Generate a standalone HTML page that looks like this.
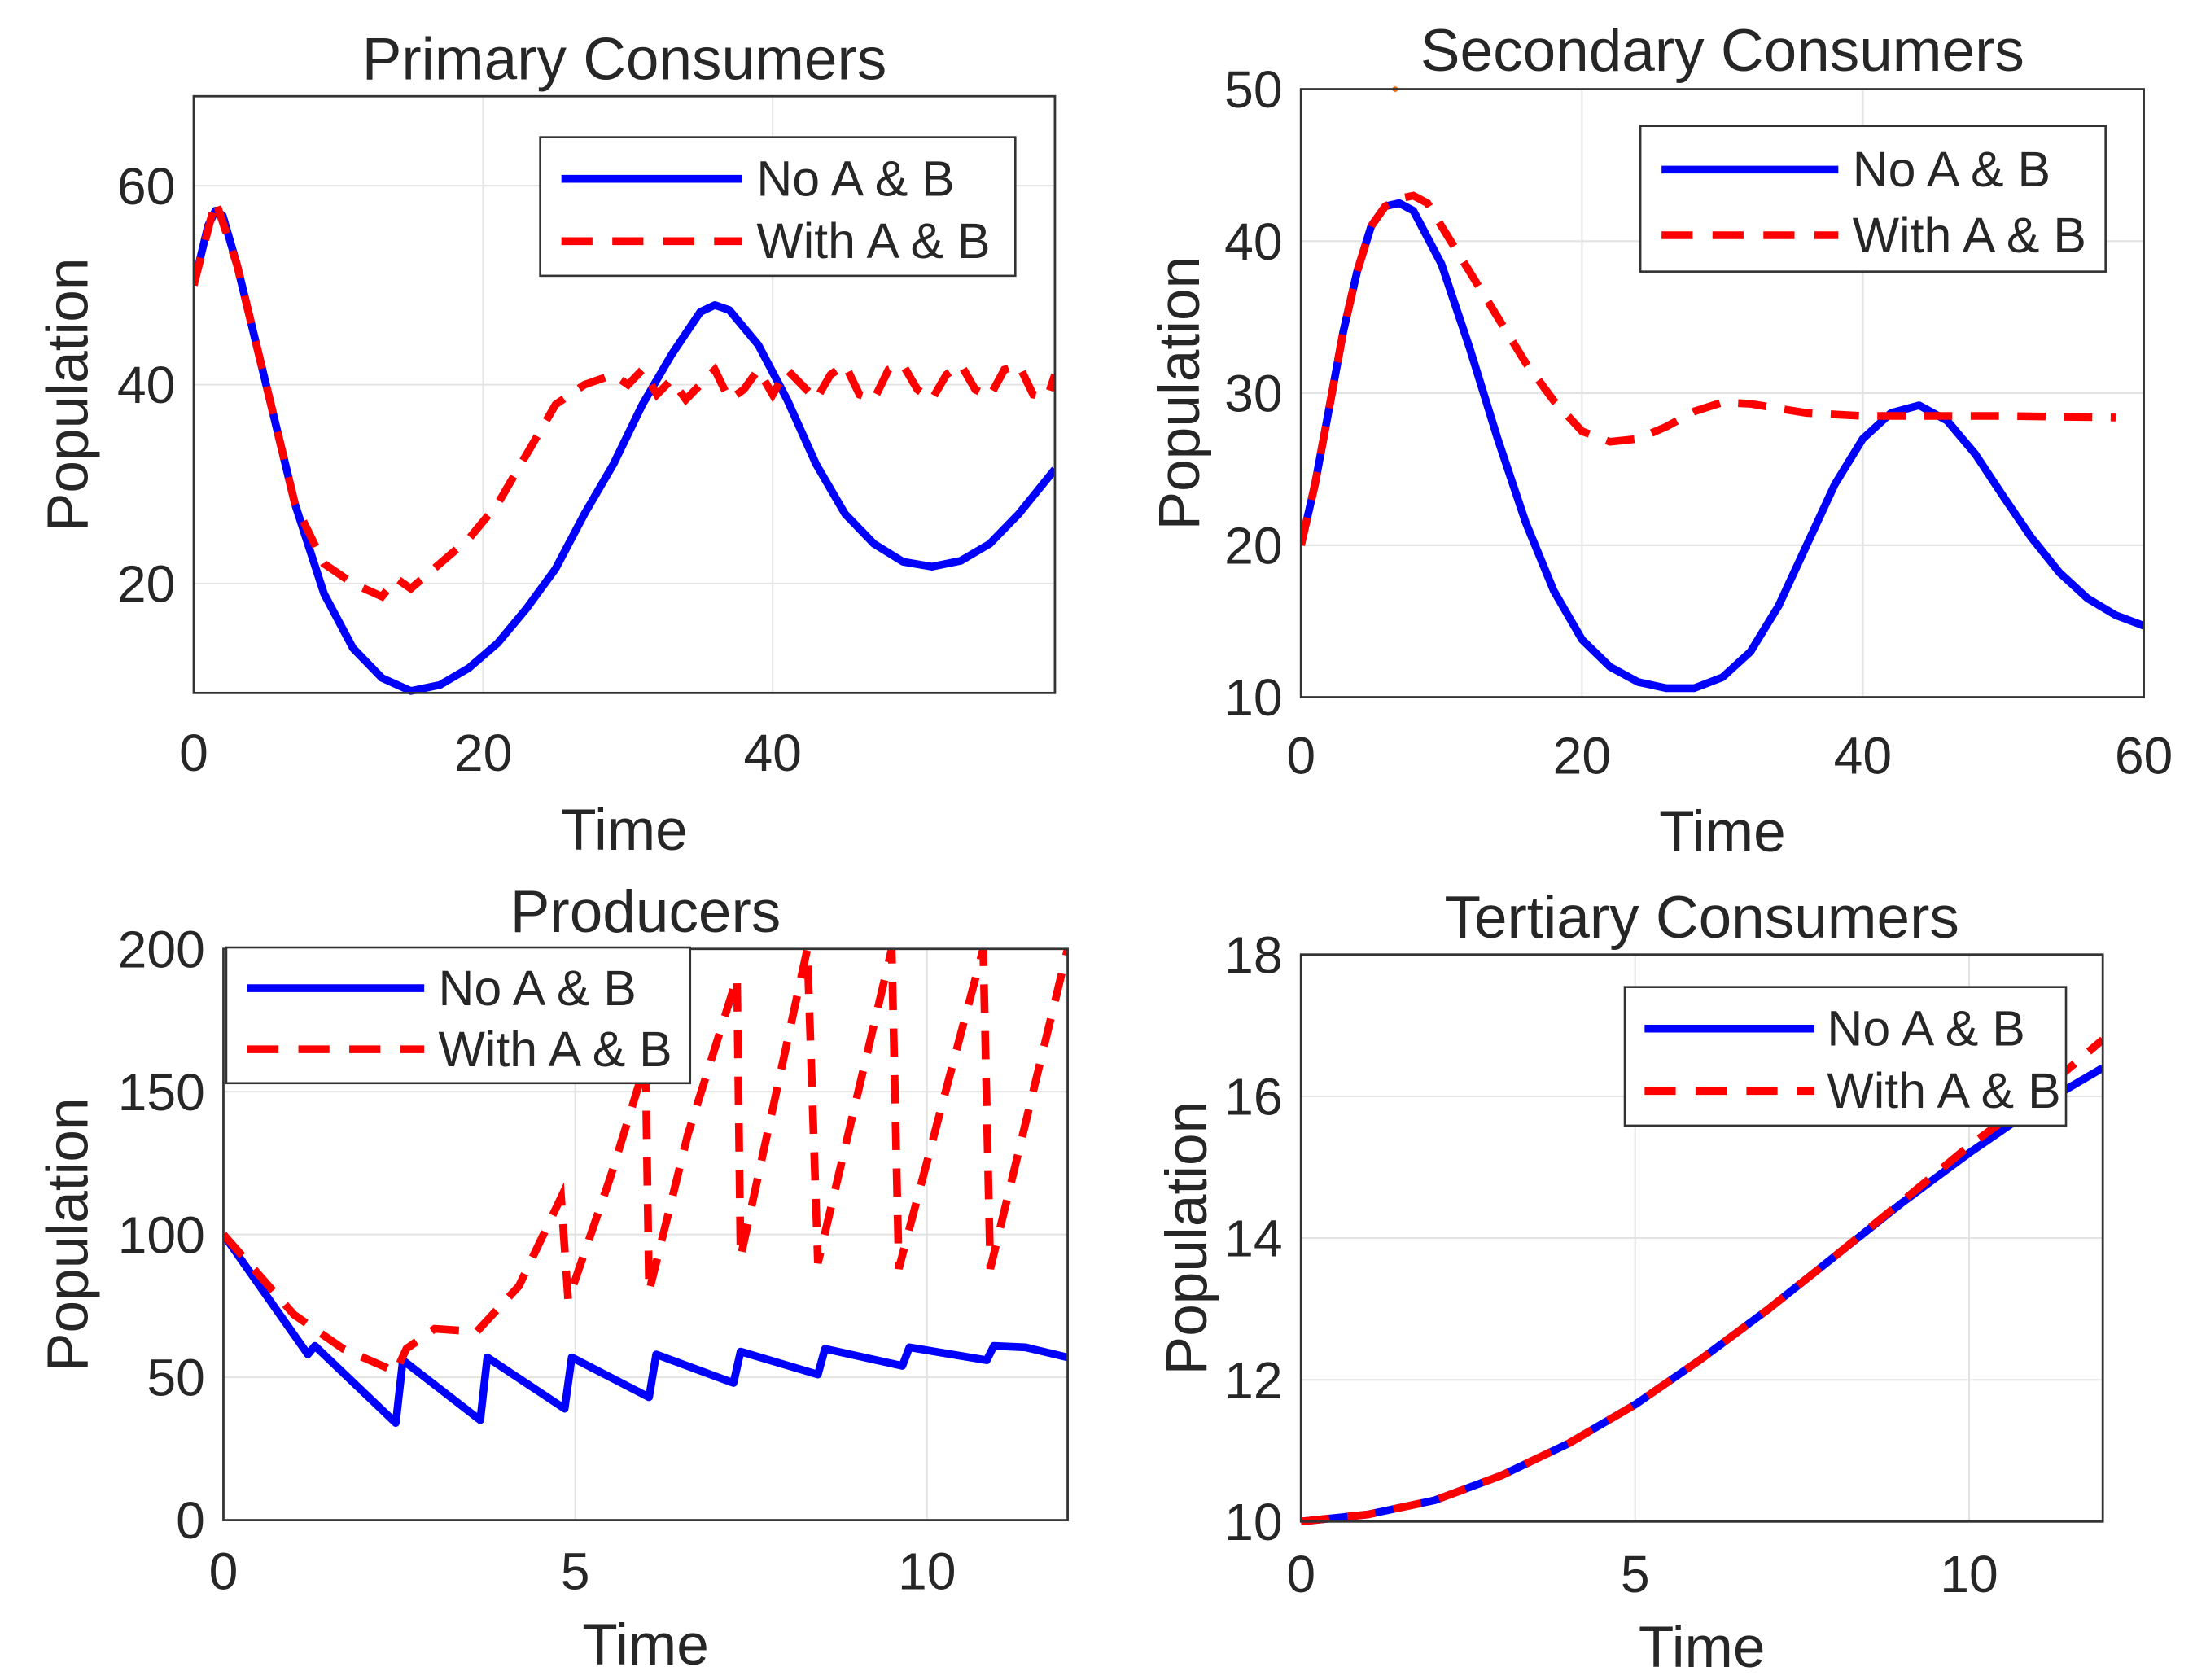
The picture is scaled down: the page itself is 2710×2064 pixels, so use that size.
<!DOCTYPE html>
<html><head><meta charset="utf-8"><style>
html,body{margin:0;padding:0;background:#fff}
svg{display:block}
text{font-family:"Liberation Sans",sans-serif;fill:#262626}
.grid{stroke:#e3e3e3;stroke-width:1.2}
.ax{fill:none;stroke:#333;stroke-width:1.6}
.tk{font-size:37px}
.lg{font-size:35px}
.tt{font-size:42px;text-anchor:middle}
.al{font-size:41px;text-anchor:middle}
.blue{fill:none;stroke:#0000ff;stroke-width:5.5;stroke-linejoin:round}
.red{fill:none;stroke:#ff0000;stroke-width:5.5;stroke-dasharray:20 13}
</style></head><body>
<svg id="fig" width="2710" height="2064" viewBox="0 0 1560 1188">
<defs>
<clipPath id="c0"><rect x="137" y="65" width="609" height="428"/></clipPath>
<clipPath id="c1"><rect x="920" y="60" width="596" height="436"/></clipPath>
<clipPath id="c2"><rect x="158" y="668" width="597" height="410"/></clipPath>
<clipPath id="c3"><rect x="920" y="672" width="567" height="407"/></clipPath>
</defs>

<!-- Panel 1 -->
<g>
<line class="grid" x1="341.7" x2="341.7" y1="68" y2="490"/><line class="grid" x1="546.4" x2="546.4" y1="68" y2="490"/>
<line class="grid" x1="137" x2="746" y1="412.6" y2="412.6"/><line class="grid" x1="137" x2="746" y1="272" y2="272"/><line class="grid" x1="137" x2="746" y1="131.3" y2="131.3"/>
<polyline id="l0b" class="blue" clip-path="url(#c0)" points="137,201.6 147.2,159.4 152.4,148.9 157.5,152.4 167.7,187.6 188.2,272 208.6,356.4 229.1,419.7 249.6,458.3 270.1,479.4 290.5,488.6 311,484.4 331.5,472.4 351.9,454.8 372.4,430.2 392.9,402.1 413.3,363.4 433.8,328.2 454.3,286 474.8,250.9 495.2,220.6 505.5,215.7 515.7,219.2 536.2,243.8 556.6,282.5 577.1,328.2 597.6,363.4 618,384.5 638.5,397.2 659,400.7 679.5,396.5 699.9,384.5 720.4,363.4 746,331.8"/>
<polyline id="l0r" class="red" clip-path="url(#c0)" points="137,201.6 152.4,141.9 167.7,187.6 188.2,272 208.6,356.4 229.1,398.6 249.6,412.6 270.1,421.8 280.3,409.1 290.5,416.2 311,398.6 331.5,381 351.9,356.4 372.4,321.2 392.9,286 413.3,272 433.8,264.9 444.1,272 454.3,261.4 464.5,279 474.8,268.5 485,282.5 495.2,272 505.5,261.4 515.7,282.5 525.9,275.5 536.2,261.4 546.4,279 556.6,261.4 566.9,272 577.1,282.5 587.3,264.9 597.6,257.9 607.8,279 618,282.5 628.3,261.4 638.5,257.9 648.8,275.5 659,282.5 669.2,264.9 679.5,257.9 689.7,275.5 699.9,280.4 710.2,261.4 720.4,257.9 730.6,279 740.9,280.4 746,264.9"/>
<rect class="ax" x="137" y="68" width="609" height="422"/>
<text class="tk" x="137" y="545" text-anchor="middle">0</text>
<text class="tk" x="341.7" y="545" text-anchor="middle">20</text>
<text class="tk" x="546.4" y="545" text-anchor="middle">40</text>
<text class="tk" x="124" y="425.6" text-anchor="end">20</text>
<text class="tk" x="124" y="285" text-anchor="end">40</text>
<text class="tk" x="124" y="144.3" text-anchor="end">60</text>
<text class="tt" x="441.5" y="56">Primary Consumers</text>
<text class="al" x="441.5" y="601">Time</text>
<text class="al" x="62" y="279" transform="rotate(-90 62 279)">Population</text>
<g>
<rect x="382" y="97" width="336" height="98" fill="#fff" stroke="#333" stroke-width="1.5"/>
<line x1="397" x2="525" y1="126.4" y2="126.4" stroke="#0000ff" stroke-width="5.5"/>
<line x1="397" x2="525" y1="170.5" y2="170.5" stroke="#ff0000" stroke-width="5.5" stroke-dasharray="22 14"/>
<text class="lg" x="535" y="138.4">No A &amp; B</text>
<text class="lg" x="535" y="182.5">With A &amp; B</text>
</g>
</g>

<!-- Panel 2 -->
<g>
<line class="grid" x1="1118.7" x2="1118.7" y1="63" y2="493"/><line class="grid" x1="1317.3" x2="1317.3" y1="63" y2="493"/>
<line class="grid" x1="920" x2="1516" y1="385.5" y2="385.5"/><line class="grid" x1="920" x2="1516" y1="278" y2="278"/><line class="grid" x1="920" x2="1516" y1="170.5" y2="170.5"/>
<polyline id="l1b" class="blue" clip-path="url(#c1)" points="920,385.5 929.9,342.5 939.9,288.8 949.8,235 959.7,192 969.7,159.8 979.6,145.8 989.5,143.6 999.5,149 1019.3,186.6 1039.2,245.8 1059.1,310.3 1078.9,369.4 1098.8,417.8 1118.7,452.2 1138.5,471.5 1158.4,482.3 1178.3,486.6 1198.1,486.6 1218,479 1237.9,460.8 1257.7,428.5 1277.6,385.5 1297.5,342.5 1317.3,310.3 1337.2,292 1357.1,286.6 1376.9,297.4 1396.8,321 1416.7,351.1 1436.5,380.1 1456.4,404.9 1476.2,423.1 1496.1,435 1516,442.5"/>
<polyline id="l1r" class="red" clip-path="url(#c1)" points="920,385.5 929.9,342.5 939.9,288.8 949.8,235 959.7,192 969.7,159.8 979.6,145.8 989.5,140.4 999.5,138.3 1009.4,143.6 1019.3,159.8 1039.2,192 1059.1,224.3 1078.9,256.5 1098.8,283.4 1108.7,294.1 1118.7,304.9 1138.5,312.4 1158.4,310.3 1178.3,301.7 1198.1,290.9 1218,284.5 1237.9,285.5 1257.7,288.8 1277.6,292 1317.3,294.1 1357.1,294.1 1416.7,294.1 1496.1,295.2"/>
<circle cx="986.6" cy="63" r="2" fill="#ff6600"/>
<rect class="ax" x="920" y="63" width="596" height="430"/>
<text class="tk" x="920" y="547" text-anchor="middle">0</text>
<text class="tk" x="1118.7" y="547" text-anchor="middle">20</text>
<text class="tk" x="1317.3" y="547" text-anchor="middle">40</text>
<text class="tk" x="1516" y="547" text-anchor="middle">60</text>
<text class="tk" x="907" y="506" text-anchor="end">10</text>
<text class="tk" x="907" y="398.5" text-anchor="end">20</text>
<text class="tk" x="907" y="291" text-anchor="end">30</text>
<text class="tk" x="907" y="183.5" text-anchor="end">40</text>
<text class="tk" x="907" y="76" text-anchor="end">50</text>
<text class="tt" x="1218" y="50">Secondary Consumers</text>
<text class="al" x="1218" y="602">Time</text>
<text class="al" x="848" y="278" transform="rotate(-90 848 278)">Population</text>
<g>
<rect x="1160" y="89" width="329" height="103" fill="#fff" stroke="#333" stroke-width="1.5"/>
<line x1="1175" x2="1300" y1="119.9" y2="119.9" stroke="#0000ff" stroke-width="5.5"/>
<line x1="1175" x2="1300" y1="166.3" y2="166.3" stroke="#ff0000" stroke-width="5.5" stroke-dasharray="22 14"/>
<text class="lg" x="1310" y="131.9">No A &amp; B</text>
<text class="lg" x="1310" y="178.3">With A &amp; B</text>
</g>
</g>

<!-- Panel 3 -->
<g>
<line class="grid" x1="406.8" x2="406.8" y1="671" y2="1075"/><line class="grid" x1="655.5" x2="655.5" y1="671" y2="1075"/>
<line class="grid" x1="158" x2="755" y1="974" y2="974"/><line class="grid" x1="158" x2="755" y1="873" y2="873"/><line class="grid" x1="158" x2="755" y1="772" y2="772"/>
<polyline id="l2b" class="blue" clip-path="url(#c2)" points="158,873 217.7,957.8 222.7,951.8 279.9,1006.3 284.9,961.9 339.6,1004.3 344.6,959.9 399.3,996.2 404.3,959.9 459,988.1 464,957.8 518.7,978 523.7,955.8 578.4,972 583.4,953.8 638.1,965.9 643.1,952.8 697.8,961.9 702.8,951.8 725.2,952.8 755,959.9"/>
<polyline id="l2r" class="red" clip-path="url(#c2)" points="158,873 207.8,929.6 242.6,953.8 279.9,970 287.4,953.8 307.3,939.7 337.1,941.7 367,909.4 396.8,846.7 401.8,919.5 431.6,832.6 456.5,751.8 459,913.4 486.4,802.3 521.2,691.2 523.7,889.2 570.9,671 578.4,893.2 630.6,671 635.6,897.2 695.3,671 700.3,897.2 755,671"/>
<rect class="ax" x="158" y="671" width="597" height="404"/>
<text class="tk" x="158" y="1124" text-anchor="middle">0</text>
<text class="tk" x="406.8" y="1124" text-anchor="middle">5</text>
<text class="tk" x="655.5" y="1124" text-anchor="middle">10</text>
<text class="tk" x="145" y="1088" text-anchor="end">0</text>
<text class="tk" x="145" y="987" text-anchor="end">50</text>
<text class="tk" x="145" y="886" text-anchor="end">100</text>
<text class="tk" x="145" y="785" text-anchor="end">150</text>
<text class="tk" x="145" y="684" text-anchor="end">200</text>
<text class="tt" x="456.5" y="659">Producers</text>
<text class="al" x="456.5" y="1177">Time</text>
<text class="al" x="62" y="873" transform="rotate(-90 62 873)">Population</text>
<g>
<rect x="160" y="670" width="328" height="96" fill="#fff" stroke="#333" stroke-width="1.5"/>
<line x1="175" x2="300" y1="698.8" y2="698.8" stroke="#0000ff" stroke-width="5.5"/>
<line x1="175" x2="300" y1="742" y2="742" stroke="#ff0000" stroke-width="5.5" stroke-dasharray="22 14"/>
<text class="lg" x="310" y="710.8">No A &amp; B</text>
<text class="lg" x="310" y="754">With A &amp; B</text>
</g>
</g>

<!-- Panel 4 -->
<g>
<line class="grid" x1="1156.3" x2="1156.3" y1="675" y2="1076"/><line class="grid" x1="1392.5" x2="1392.5" y1="675" y2="1076"/>
<line class="grid" x1="920" x2="1487" y1="975.8" y2="975.8"/><line class="grid" x1="920" x2="1487" y1="875.5" y2="875.5"/><line class="grid" x1="920" x2="1487" y1="775.3" y2="775.3"/>
<polyline id="l3b" class="blue" clip-path="url(#c3)" points="920,1076 967.3,1071 1014.5,1061 1061.8,1043.4 1109,1020.9 1156.3,993.3 1203.5,960.7 1250.8,925.6 1298,888 1345.3,850.4 1392.5,815.4 1439.8,782.8 1487,755.2"/>
<polyline id="l3r" class="red" clip-path="url(#c3)" points="920,1076 967.3,1071 1014.5,1061 1061.8,1043.4 1109,1020.9 1156.3,993.3 1203.5,960.7 1250.8,925.6 1298,888 1345.3,849.4 1392.5,810.4 1439.8,775.3 1487,735.2"/>
<rect class="ax" x="920" y="675" width="567" height="401"/>
<text class="tk" x="920" y="1126" text-anchor="middle">0</text>
<text class="tk" x="1156.3" y="1126" text-anchor="middle">5</text>
<text class="tk" x="1392.5" y="1126" text-anchor="middle">10</text>
<text class="tk" x="907" y="1089" text-anchor="end">10</text>
<text class="tk" x="907" y="988.8" text-anchor="end">12</text>
<text class="tk" x="907" y="888.5" text-anchor="end">14</text>
<text class="tk" x="907" y="788.3" text-anchor="end">16</text>
<text class="tk" x="907" y="688" text-anchor="end">18</text>
<text class="tt" x="1203.5" y="663">Tertiary Consumers</text>
<text class="al" x="1203.5" y="1179">Time</text>
<text class="al" x="853" y="875.5" transform="rotate(-90 853 875.5)">Population</text>
<g>
<rect x="1149" y="698" width="312" height="98" fill="#fff" stroke="#333" stroke-width="1.5"/>
<line x1="1163" x2="1283" y1="727.4" y2="727.4" stroke="#0000ff" stroke-width="5.5"/>
<line x1="1163" x2="1283" y1="771.5" y2="771.5" stroke="#ff0000" stroke-width="5.5" stroke-dasharray="22 14"/>
<text class="lg" x="1292" y="739.4">No A &amp; B</text>
<text class="lg" x="1292" y="783.5">With A &amp; B</text>
</g>
</g>
</svg>
<script>
var p1T=[0,1,1.5,2,3,5,7,9,11,13,15,17,19,21,23,25,27,29,31,33,35,36,37,39,41,43,45,47,49,51,53,55,57,59.5];
var p1NoAB=[50,56,57.5,57,52,40,28,19,13.5,10.5,9.2,9.8,11.5,14,17.5,21.5,27,32,38,43,47.3,48,47.5,44,38.5,32,27,24,22.2,21.7,22.3,24,27,31.5];
var p1TW=[0,1.5,3,5,7,9,11,13,14,15,17,19,21,23,25,27,29,30,31,32,33,34,35,36,37,38,39,40,41,42,43,44,45,46,47,48,49,50,51,52,53,54,55,56,57,58,59,59.5];
var p1WithAB=[50,58.5,52,40,28,22,20,18.7,20.5,19.5,22,24.5,28,33,38,40,41,40,41.5,39,40.5,38.5,40,41.5,38.5,39.5,41.5,39,41.5,40,38.5,41,42,39,38.5,41.5,42,39.5,38.5,41,42,39.5,38.8,41.5,42,39,38.8,41];
var p2T=[0,1,2,3,4,5,6,7,8,10,12,14,16,18,20,22,24,26,28,30,32,34,36,38,40,42,44,46,48,50,52,54,56,58,60];
var p2NoAB=[20,24,29,34,38,41,42.3,42.5,42,38.5,33,27,21.5,17,13.8,12,11,10.6,10.6,11.3,13,16,20,24,27,28.7,29.2,28.2,26,23.2,20.5,18.2,16.5,15.4,14.7];
var p2TW=[0,1,2,3,4,5,6,7,8,9,10,12,14,16,18,19,20,22,24,26,28,30,32,34,36,40,44,50,58];
var p2WithAB=[20,24,29,34,38,41,42.3,42.8,43,42.5,41,38,35,32,29.5,28.5,27.5,26.8,27,27.8,28.8,29.4,29.3,29,28.7,28.5,28.5,28.5,28.4];
var p3T=[0,1.2,1.3,2.45,2.55,3.65,3.75,4.85,4.95,6.05,6.15,7.25,7.35,8.45,8.55,9.65,9.75,10.85,10.95,11.4,12];
var p3NoAB=[100,58,61,34,56,35,57,39,57,43,58,48,59,51,60,54,60.5,56,61,60.5,57];
var p3TW=[0,1,1.7,2.45,2.6,3,3.6,4.2,4.8,4.9,5.5,6,6.05,6.6,7.3,7.35,8.3,8.45,9.5,9.6,10.8,10.9,12];
var p3WithAB=[100,72,60,52,60,67,66,82,113,77,120,160,80,135,190,92,200,90,200,88,200,88,200];
var p4T=[0,1,2,3,4,5,6,7,8,9,10,11,12];
var p4NoAB=[10,10.1,10.3,10.65,11.1,11.65,12.3,13,13.75,14.5,15.2,15.85,16.4];
var p4WithAB=[10,10.1,10.3,10.65,11.1,11.65,12.3,13,13.75,14.52,15.3,16.0,16.8];
try{
  var axesCfg=[
    {b:[137,68,746,490],xr:[0,59.5],yr:[9,69],s:[[p1T,p1NoAB,'l0b'],[p1TW,p1WithAB,'l0r']]},
    {b:[920,63,1516,493],xr:[0,60],yr:[10,50],s:[[p2T,p2NoAB,'l1b'],[p2TW,p2WithAB,'l1r']]},
    {b:[158,671,755,1075],xr:[0,12],yr:[0,200],s:[[p3T,p3NoAB,'l2b'],[p3TW,p3WithAB,'l2r']]},
    {b:[920,675,1487,1076],xr:[0,12],yr:[10,18],s:[[p4T,p4NoAB,'l3b'],[p4TW,p4WithAB,'l3r']]}
  ];
  for(var a=0;a<axesCfg.length;a++){
    var c=axesCfg[a];
    for(var s=0;s<c.s.length;s++){
      var tt=c.s[s][0],vv=c.s[s][1],node=document.getElementById(c.s[s][2]);
      if(!node){continue;}
      var out=[];
      for(var k=0;k<tt.length&&k<vv.length;k++){
        var px=c.b[0]+(tt[k]-c.xr[0])/(c.xr[1]-c.xr[0])*(c.b[2]-c.b[0]);
        var py=c.b[3]-(vv[k]-c.yr[0])/(c.yr[1]-c.yr[0])*(c.b[3]-c.b[1]);
        out.push(px.toFixed(1)+','+py.toFixed(1));
      }
      node.setAttribute('points',out.join(' '));
    }
  }
}catch(e){}
</script>
</body></html>
